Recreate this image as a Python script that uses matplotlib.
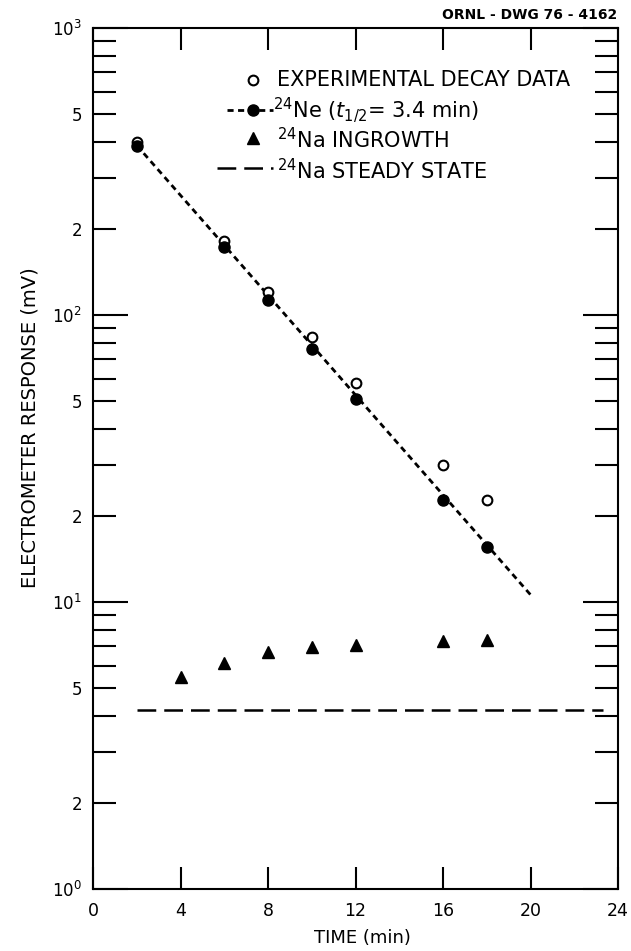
import matplotlib
matplotlib.use("Agg")
import matplotlib.pyplot as plt
import numpy as np

plt.rcParams['font.family'] = ['DejaVu Sans']
plt.rcParams['mathtext.fontset'] = 'dejavusans'

# ---- data ----
t_exp = [2, 6, 8, 10, 12, 16, 18]
exp_decay = [401, 181, 120, 84, 58, 30, 22.7]
ne_points = [388, 173, 113, 76, 51, 22.7, 15.5]
ne_fit_t = [2, 20]
ne_fit = [390, 10.6]
t_na = [4, 6, 8, 10, 12, 16, 18]
na_ingrowth = [5.46, 6.11, 6.67, 6.95, 7.10, 7.31, 7.36]
steady_t = [2, 23.3]
steady = [4.2, 4.2]

x_ticks = [0, 4, 8, 12, 16, 20, 24]
x_tick_labels = ['0', '4', '8', '12', '16', '20', '24']
y_major = [1, 10, 100, 1000]
y_major_labels = ['$10^0$', '$10^1$', '$10^2$', '$10^3$']
y_minor_labeled = {2: '2', 5: '5'}

legend_labels = ['EXPERIMENTAL DECAY DATA',
                 r'$^{24}$Ne ($\mathit{t}_{1/2}$= 3.4 min)',
                 r'$^{24}$Na INGROWTH',
                 r'$^{24}$Na STEADY STATE']

fig = plt.figure(figsize=(6.31, 9.51), dpi=100)
L, R, T, B = 93, 618, 28, 889
W, H = 631, 951
ax = fig.add_axes([L / W, 1 - B / H, (R - L) / W, (B - T) / H])
ax.set_yscale('log')
ax.set_xlim(0, 24)
ax.set_ylim(1, 1000)

ne_style = (0, (2.2, 1.6))
ss_style = (0, (7.5, 3.2))

# lines
ax.plot(ne_fit_t, ne_fit, color='black', lw=2.0, linestyle=ne_style, zorder=2)
ax.plot(steady_t, steady, color='black', lw=1.8, linestyle=ss_style, zorder=2)
# markers
ax.plot(t_exp, exp_decay, 'o', mfc='white', mec='black', mew=1.5, ms=7, zorder=3, ls='none')
ax.plot(t_exp, ne_points, 'o', color='black', ms=8, zorder=4, ls='none')
ax.plot(t_na, na_ingrowth, '^', color='black', ms=9, zorder=3, ls='none')

# ticks
ax.set_xticks(x_ticks, x_tick_labels)
ax.set_yticks(y_major, y_major_labels)
minor_pos = []
minor_lab = []
for dec in [1, 10, 100]:
    for m in range(2, 10):
        minor_pos.append(m * dec)
        minor_lab.append(y_minor_labeled.get(m, ''))
ax.set_yticks(minor_pos, minor_lab, minor=True)
ax.xaxis.set_minor_locator(matplotlib.ticker.NullLocator())

ax.tick_params(axis='both', which='both', direction='in', top=True, right=True,
               width=1.5, color='black')
ax.tick_params(axis='x', which='major', length=16, labelsize=12.5, pad=9)
ax.tick_params(axis='y', which='major', length=25, labelsize=12, pad=8)
ax.tick_params(axis='y', which='minor', length=16.5, labelsize=12, pad=8)
for s in ax.spines.values():
    s.set_linewidth(1.5)

ax.set_xlabel('TIME (min)', fontsize=13)
ax.set_ylabel('ELECTROMETER RESPONSE (mV)', fontsize=14)
ax.yaxis.set_label_coords((30 - L) / (R - L), (B - 428) / (B - T))
ax.xaxis.set_label_coords((362 - L) / (R - L), -(938 - B) / (B - T))
ax.xaxis.label.set_verticalalignment('center')
ax.yaxis.label.set_verticalalignment('center')

# legend drawn manually
def ax_x(px):
    return (px - L) / (R - L)

def ax_y(py):
    return (B - py) / (B - T)

tr = ax.transAxes
mx = ax_x(253)
ax.plot([mx], [ax_y(80)], 'o', mfc='white', mec='black', mew=1.5, ms=7, transform=tr, clip_on=False)
ax.plot([ax_x(227), ax_x(273)], [ax_y(110)] * 2, color='black', lw=2.0,
        linestyle=ne_style, transform=tr, clip_on=False)
ax.plot([mx], [ax_y(110)], 'o', color='black', ms=8, transform=tr, clip_on=False)
ax.plot([mx], [ax_y(138)], '^', color='black', ms=9, transform=tr, clip_on=False)
ax.plot([ax_x(217), ax_x(273)], [ax_y(168)] * 2, color='black', lw=1.8,
        linestyle=ss_style, transform=tr, clip_on=False)

text_rows = [(277, 80), (273, 110), (277, 140), (277, 171)]
for (px, py), lab in zip(text_rows, legend_labels):
    ax.text(ax_x(px), ax_y(py), lab, transform=tr, fontsize=15, va='center', ha='left')

fig.text(617 / W, 1 - 15 / H, 'ORNL - DWG 76 - 4162', fontsize=10, fontweight='bold',
         ha='right', va='center')

fig.savefig('out.png', dpi=100)
